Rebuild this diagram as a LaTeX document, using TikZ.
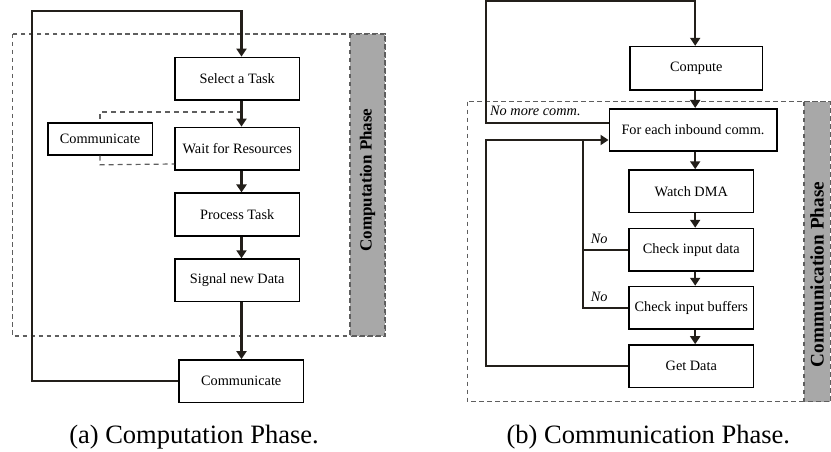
\documentclass[tikz,border=0pt]{standalone}
\usepackage{fontspec}
\setmainfont{Liberation Serif}
\usetikzlibrary{arrows.meta,calc}
\definecolor{linecol}{HTML}{231F1A}
\definecolor{dashcol}{HTML}{5E5E5E}
\definecolor{grayfill}{HTML}{A8A8A8}
\begin{document}
\begin{tikzpicture}[x=1pt,y=-1pt,
  box/.style={draw=black,line width=1.6pt,fill=white,inner sep=0pt,
    font=\fontsize{14.3}{16}\selectfont,minimum height=42.5pt,minimum width=124.3pt},
  conn/.style={draw=linecol,line width=2.2pt},
  arr/.style={conn,-{Triangle[length=8pt,width=10pt]}},
  dashconn/.style={draw=dashcol,line width=1.2pt,dash pattern=on 5pt off 4pt},
  phasebox/.style={draw=dashcol,line width=1.2pt,dash pattern=on 4.5pt off 3.5pt},
  phasebar/.style={phasebox,fill=grayfill},
  lbl/.style={font=\itshape\fontsize{14.3}{16}\selectfont,anchor=base west,inner sep=0pt},
  captext/.style={font=\fontsize{26.5}{30}\selectfont,anchor=base,inner sep=0pt},
]
\useasboundingbox (0,0) rectangle (831,452);

% ---------------- (a) ----------------
\draw[phasebox] (12.5,34) rectangle (385,336);
\draw[phasebar] (350,34) rectangle (385,336);
\node[rotate=90,font=\bfseries\fontsize{17}{20}\selectfont] (lphase) at (367.5,180) {Computation Phase};

\node[box] (sel) at (237.2,78.7) {Select a Task};
\node[box] (wait) at (237.2,148.7) {Wait for Resources};
\node[box] (proc) at (237.2,214.5) {Process Task};
\node[box] (sig) at (237.2,280.3) {Signal new Data};
\node[box] (comb) at (241.2,381.2) {Communicate};
\node[box,minimum width=104.6pt,minimum height=31.4pt] (coms) at (100,139) {Communicate};

\coordinate (ctop) at (32,11);
\coordinate (cx) at (241.5,11);
\coordinate (j1) at (241.5,112);

\draw[dashconn] (j1) -- (j1 -| coms.north) -- (coms.north);
\draw[dashconn] (coms.south) -- ++(0,9.3) -- (wait.west |- 0,164);

\draw[arr] (sel.south -| cx) -- (wait.north -| cx);
\draw[arr] (wait.south -| cx) -- (proc.north -| cx);
\draw[arr] (proc.south -| cx) -- (sig.north -| cx);
\draw[arr] (sig.south -| cx) -- (comb.north -| cx);
\draw[arr] (comb.west) -- (comb.west -| ctop) -- (ctop) -- (cx) -- (sel.north -| cx);

\node[captext] (capa) at (194,443.3) {(a)\ Computation Phase.};

% ---------------- (b) ----------------
\draw[phasebox] (467.3,101.7) rectangle (830.4,401.7);
\draw[phasebar] (804,101.7) rectangle (830.4,401.7);
\node[rotate=90,font=\bfseries\fontsize{19.2}{22}\selectfont] (rphase) at (817.2,274.5) {Communication Phase};

\node[box,minimum width=132.7pt,minimum height=43.3pt] (cmp) at (696.3,68.3) {Compute};
\node[box,minimum width=167.4pt] (fe) at (693,130) {For each inbound comm.};
\node[box] (dma) at (691.3,191.3) {Watch DMA};
\node[box] (cid) at (691.3,249.8) {Check input data};
\node[box] (cib) at (691.3,307.8) {Check input buffers};
\node[box] (gd) at (691.3,366.2) {Get Data};

\coordinate (rx) at (695.2,1.2);
\coordinate (rl) at (486,1.2);
\coordinate (nox) at (583.3,140);
\coordinate (feo) at ($(fe.west)+(0,-6.7)$);

\draw[arr] (feo) -- (feo -| rl) -- (rl) -- (rx) -- (cmp.north -| rx);
\draw[arr] (cmp.south -| rx) -- (fe.north -| rx);
\draw[arr] (fe.south -| rx) -- (dma.north -| rx);
\draw[arr] (dma.south -| rx) -- (cid.north -| rx);
\draw[arr] (cid.south -| rx) -- (cib.north -| rx);
\draw[arr] (cib.south -| rx) -- (gd.north -| rx);

\draw[arr] (gd.west) -- (gd.west -| rl) -- (rl |- nox) -- (fe.west |- nox);
\draw[conn] (cid.west) -- (cid.west -| nox) -- (nox);
\draw[conn] (cib.west) -- (cib.west -| nox) -- (cid.west -| nox);

\node[lbl] (nomore) at (490,115.7) {No more comm.};
\node[lbl] (no1) at (590.7,243.3) {No};
\node[lbl] (no2) at (590.7,301) {No};

\node[captext] (capb) at (648.3,443.3) {(b)\ Communication Phase.};
\end{tikzpicture}
\end{document}
